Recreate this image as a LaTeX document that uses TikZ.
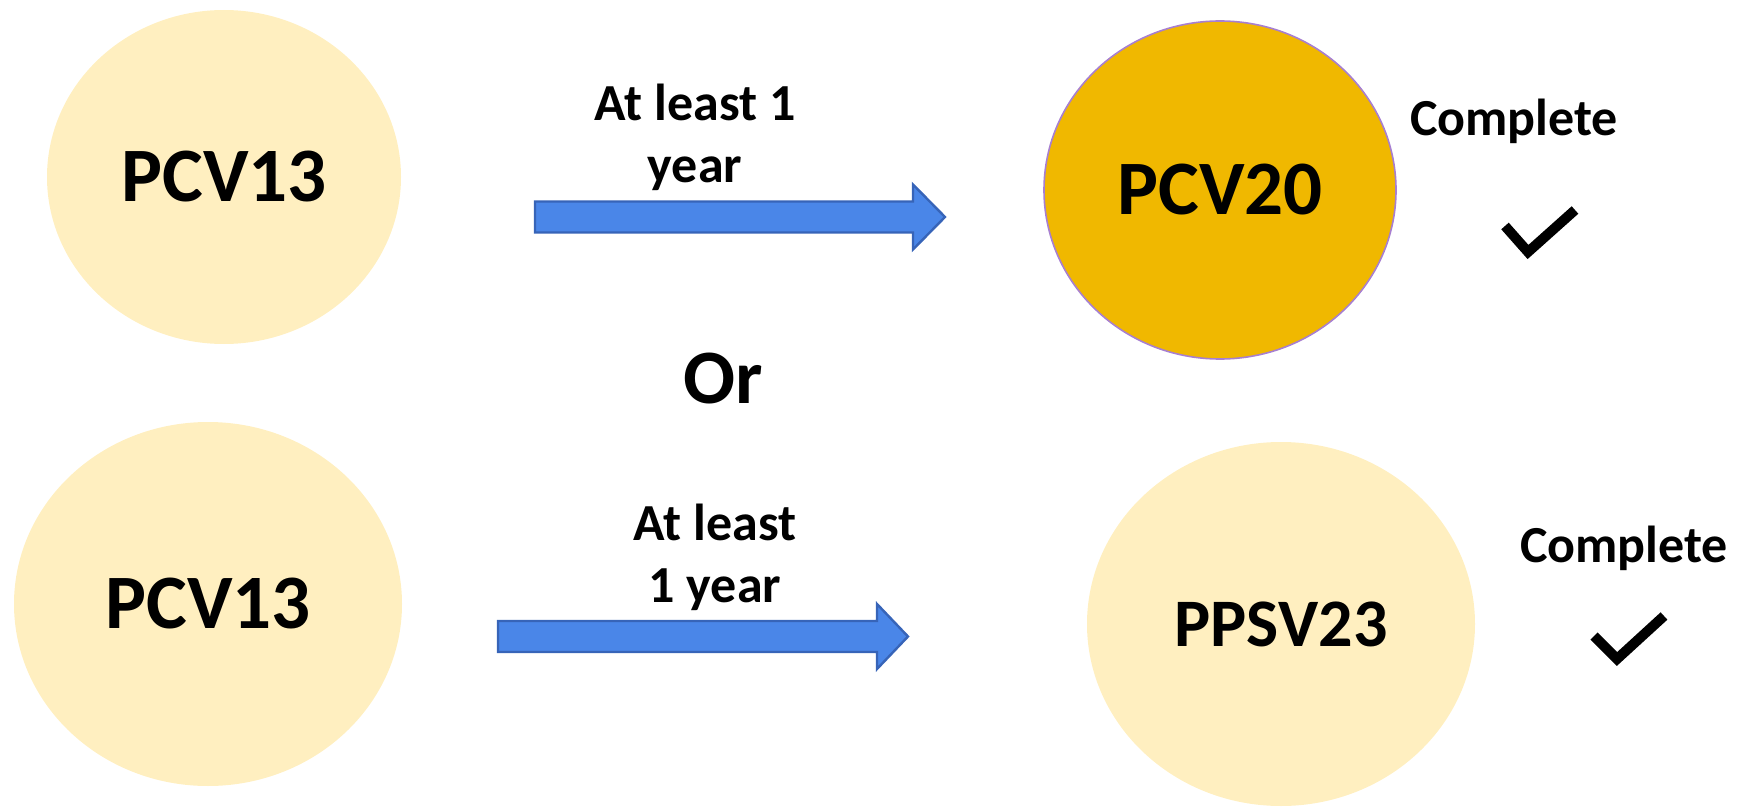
\documentclass[tikz,border=0pt]{standalone}
\usepackage{fontspec}
\setmainfont{Carlito}
\usetikzlibrary{shapes.geometric}
\definecolor{pale}{HTML}{FFEFC0}
\definecolor{gold}{HTML}{F0B800}
\definecolor{lilac}{HTML}{A77FD0}
\definecolor{blu}{HTML}{4A86E8}
\definecolor{bluedge}{HTML}{3764B8}
\begin{document}
\begin{tikzpicture}[x=.5pt, y=-.5pt,
	vac/.style={ellipse, inner sep=0pt, fill=pale, font=\fontsize{38.5}{46}\selectfont\bfseries},
	gap/.style={align=center, inner sep=0pt, font=\fontsize{26}{31}\selectfont\bfseries},
	blk/.style={fill=blu, draw=bluedge, line width=1.2pt},
	tick/.style={line width=5pt, miter limit=10}
	]
	\useasboundingbox (0,0) rectangle (1752,808);
	\path
		(224,177) node[vac, minimum width=177pt, minimum height=167pt] (a1) {PCV13}
		(1220,190) node[vac, fill=gold, draw=lilac, line width=.8pt, minimum width=176pt, minimum height=169pt] (b1) {PCV20}
		(208,604) node[vac, minimum width=194pt, minimum height=182pt] (a2) {PCV13}
		(1281,624) node[vac, minimum width=194pt, minimum height=182pt, font=\fontsize{34}{41}\selectfont\bfseries] (b2) {PPSV23}
		(723,379) node[inner sep=0pt, font=\fontsize{38.5}{46}\selectfont\bfseries] (or) {Or}
		(695,137) node[gap] (t1) {At least 1\\year}
		(715,557) node[gap] (t2) {At least\\1 year}
		(1514,136) node[gap, anchor=base] (c1) {Complete}
		(1624,562) node[gap, anchor=base] (c2) {Complete}
		(535,217) coordinate (s1)
		(498,636.5) coordinate (s2)
	;
	\draw[blk] (s1) ++(0,-15.5) -- ++(378,0) -- ++(0,-17) -- ++(32,32.5) -- ++(-32,32.5) -- ++(0,-17) -- ++(-378,0) -- cycle;
	\draw[blk] (s2) ++(0,-15.5) -- ++(379,0) -- ++(0,-17) -- ++(31,32.5) -- ++(-31,32.5) -- ++(0,-17) -- ++(-379,0) -- cycle;
	\draw[tick] (1505,226) -- (1528,252) -- (1575,210);
	\draw[tick] (1594,636) -- (1617,659) -- (1664,616);
\end{tikzpicture}
\end{document}
